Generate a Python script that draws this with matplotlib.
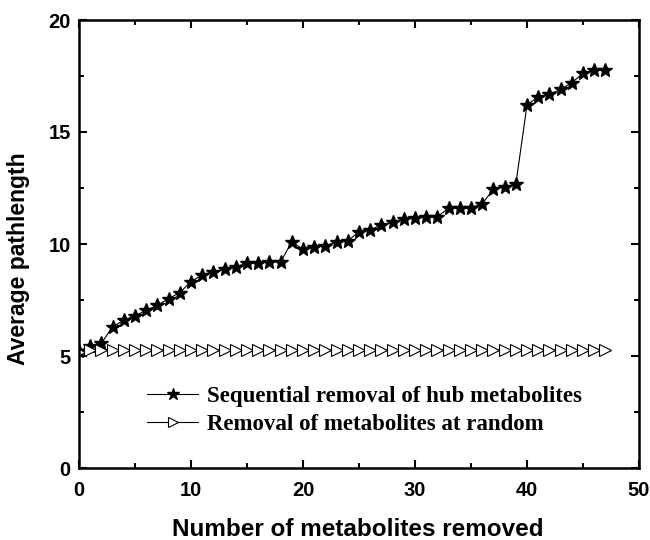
import matplotlib
matplotlib.use("Agg")
import matplotlib.pyplot as plt
from matplotlib.ticker import MultipleLocator

x_hub = list(range(48))
y_hub = [5.22, 5.45, 5.57, 6.31, 6.59, 6.80, 7.04, 7.26, 7.56, 7.83,
         8.32, 8.62, 8.77, 8.87, 8.99, 9.14, 9.14, 9.20, 9.20, 10.10,
         9.76, 9.88, 9.92, 10.10, 10.14, 10.55, 10.63, 10.85, 10.96, 11.10,
         11.18, 11.22, 11.22, 11.60, 11.60, 11.62, 11.80, 12.44, 12.56, 12.66,
         16.20, 16.58, 16.68, 16.90, 17.20, 17.62, 17.75, 17.75]
x_rand = list(range(48))
y_rand = [5.20] + [5.27] * 47

label_hub = "Sequential removal of hub metabolites"
label_rand = "Removal of metabolites at random"

fig = plt.figure(figsize=(6.5, 5.4), dpi=100)
ax = fig.add_axes([79/650, 72/540, 560/650, 448/540])

ax.plot(x_hub, y_hub, color="black", lw=0.8, marker="*", markersize=10,
        markerfacecolor="black", markeredgecolor="black", label=label_hub)
ax.plot(x_rand, y_rand, color="black", lw=0.8, marker=">", markersize=8,
        markerfacecolor="white", markeredgecolor="black", markeredgewidth=0.8,
        label=label_rand)

ax.set_xlim(0, 50)
ax.set_ylim(0, 20)
ax.xaxis.set_major_locator(MultipleLocator(10))
ax.xaxis.set_minor_locator(MultipleLocator(5))
ax.yaxis.set_major_locator(MultipleLocator(5))
ax.yaxis.set_minor_locator(MultipleLocator(2.5))
ax.tick_params(which="both", direction="in", top=True, right=True, width=1.5)
ax.tick_params(which="major", length=6)
ax.tick_params(which="minor", length=3.5)
ax.tick_params(axis="x", which="major", labelsize=14.5, pad=9)
ax.tick_params(axis="y", which="major", labelsize=14.5, pad=6)
for lab in ax.get_xticklabels() + ax.get_yticklabels():
    lab.set_fontweight("bold")
    lab.set_family("Liberation Sans")
for s in ax.spines.values():
    s.set_linewidth(1.8)

ax.set_xlabel("Number of metabolites removed", fontsize=17.5, fontweight="bold",
              family="Liberation Sans")
ax.set_ylabel("Average pathlength", fontsize=16.5, fontweight="bold",
              family="Liberation Sans")
ax.xaxis.set_label_coords(0.498, -0.111)
ax.yaxis.set_label_coords(-0.088, 0.468)

leg = ax.legend(loc="upper left", bbox_to_anchor=(0.1214, 0.184), frameon=False,
                borderpad=0, borderaxespad=0,
                handlelength=2.23, handletextpad=0.4, labelspacing=0.33,
                markerscale=0.9,
                prop={"family": "Liberation Serif", "weight": "bold", "size": 16.5})

fig.savefig("out.png", dpi=100)
